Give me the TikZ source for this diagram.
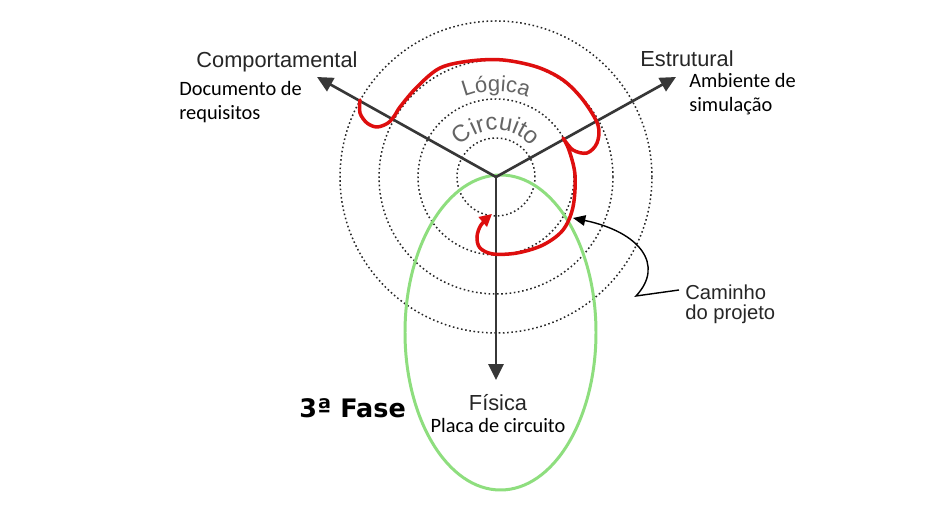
\documentclass[tikz,border=0pt]{standalone}
\usepackage{fontspec}
\setmainfont{Liberation Sans}
\newfontfamily\calibrifont{Carlito}
\newfontfamily\verdanafont{DejaVu Sans}
\usepackage{tikz}
\usetikzlibrary{
  arrows.meta,
  positioning,
  decorations.text
}
\definecolor{pathred}{RGB}{222,14,14}
\definecolor{phasegreen}{RGB}{142,222,126}
\definecolor{axisgray}{RGB}{55,55,55}
\definecolor{levelgray}{RGB}{100,100,100}
\tikzset{
  axis/.style={draw=axisgray, line width=1.5pt,
    -{Triangle[length=9pt, width=8.5pt]}},
  levelring/.style={draw=black!85, line width=0.85pt,
    dash pattern=on 0.9pt off 1.5pt},
  designpath/.style={draw=pathred, line width=2pt, line join=round,
    line cap=round, -{Triangle[length=7pt, width=7pt]}},
  callout/.style={draw=black, line width=0.8pt,
    -{Triangle[length=7pt, width=6pt]}},
  domainlabel/.style={font=\fontsize{12.4}{14}\selectfont,
    text=black!85, inner sep=0pt},
  examplelabel/.style={font=\calibrifont\fontsize{11.6}{14.2}\selectfont,
    align=left, inner sep=0pt},
}

\begin{document}
\begin{tikzpicture}[x=0.02cm, y=0.02cm]
  \useasboundingbox (0,0) rectangle (951,527);
  \fill[white] (0,0) rectangle (951,527);
  \coordinate (o) at (496,350);
  % niveis de abstracao
  \foreach \rad in {39,78,117,156}
    \draw[levelring] (o) circle (\rad);
  % 3a fase
  \draw[phasegreen, line width=1.7pt] (500.5,194.5) ellipse (95.5 and 157.5);
  % eixos do Y
  \coordinate (comptip) at (317,450);
  \coordinate (estrtip) at (676,450);
  \coordinate (fistip) at (496,147);
  \draw[axis] (o) -- (comptip);
  \draw[axis] (o) -- (estrtip);
  \draw[axis] (o) -- (fistip);
  % niveis
  \path[decorate, decoration={text along path, text align=center,
      text={|\fontsize{12.5}{14}\selectfont\color{levelgray}|Lógica}}]
    (o) ++(140:86) arc[start angle=140, end angle=40, radius=86];
  \path[decorate, decoration={text along path, text align=center,
      text={|\fontsize{13.5}{15}\selectfont\color{levelgray}|Circuito}}]
    (o) ++(150:47) arc[start angle=150, end angle=30, radius=47];
  % caminho do projeto
  \draw[designpath] plot[smooth, tension=0.55] coordinates {
      (360,427) (360,414) (367,404) (377,400) (388,404) (395,412)
      (400,420) (417,440) (440,459) (470,466) (503,467) (537,460)
      (563,447) (583,427) (598,402) (597,384) (587,374) (573,377)
      (563,389)}
    plot[smooth, tension=0.55] coordinates {
      (563,389) (569,377) (575,352) (573,320) (563,297) (543,282)
      (517,274) (493,273) (480,279) (477,290) (481,302) (492,313)};
  % textos
  \node[domainlabel, anchor=base] (comp) at (277,459) {Comportamental};
  \node[examplelabel, anchor=base west] (docreq) at (179,407)
    {Documento de\\requisitos};
  \node[domainlabel, anchor=base] (estr) at (687,460) {Estrutural};
  \node[examplelabel, anchor=base west] (ambsim) at (689,415)
    {Ambiente de\\simulação};
  \node[domainlabel, anchor=base] (fis) at (498,116) {Física};
  \node[examplelabel, anchor=base] (placa) at (498,94) {Placa de circuito};
  \node[inner sep=0pt, anchor=base west,
    font=\verdanafont\bfseries\fontsize{14.5}{17}\selectfont] (fase)
    at (299,109) {3ª Fase};
  \node[domainlabel, font=\fontsize{11.5}{11.4}\selectfont, anchor=base west,
    align=left] (cam) at (685,207) {Caminho\\do projeto};
  \coordinate (camstart) at (679,237);
  \draw[callout] (camstart) -- (636,231)
    .. controls (665,262) and (640,295) .. (573,309);
\end{tikzpicture}
\end{document}
